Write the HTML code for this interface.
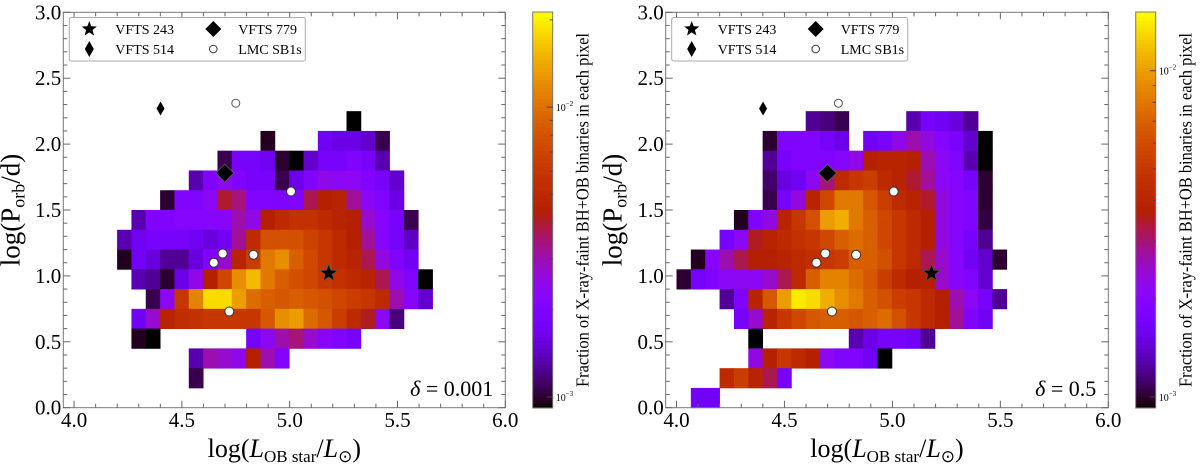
<!DOCTYPE html>
<html><head><meta charset="utf-8"><style>
body{margin:0;background:#fff}
svg{display:block;font-family:"Liberation Serif",serif}
</style></head><body>
<svg id="fig" width="1200" height="466" viewBox="0 0 1200 466" xmlns="http://www.w3.org/2000/svg"></svg>
<script>
// ---- data: rows [rowIndex, firstColumn, colour-scale positions (0-100, log fraction)] ----
const xEdgeStart = 4.0, xBin = 0.0665, yBin = 0.15;
const leftRows = [
 [14,19,[0]],
 [13,13,[2]],[13,17,[20,18,18,15,5]],
 [12,10,[5,22,22,20,3,0,15,22,22,25,22,12]],
 [11,8,[12,25,30,25,22,22,5,18,25,32,30,30,25,22,15]],
 [10,6,[3,25,25,30,47,42,25,25,25,25,45,50,52,40,30,25,18]],
 [9,4,[12,25,25,27,27,27,28,38,32,50,55,58,58,55,52,50,35,27,22,5]],
 [8,3,[12,20,22,22,22,20,17,20,40,55,68,68,68,64,60,55,50,40,27,22,14]],
 [7,3,[2,20,17,10,10,17,25,35,52,62,78,82,72,66,60,55,52,45,33,25,20]],
 [6,4,[12,10,3,18,32,50,65,82,90,78,72,68,65,60,58,55,52,45,32,25,0]],
 [5,5,[5,30,60,80,95,95,85,75,72,70,72,70,68,65,62,60,55,38,28,15]],
 [4,4,[20,35,52,56,58,60,60,60,60,70,82,85,75,70,62,55,48,30,8]],
 [3,4,[2,0]],[3,12,[22,30,38,42,35,28,25,22]],
 [2,8,[12,38,35,32,50,38,25]],
 [1,8,[5]]
];
const rightRows = [
 [14,9,[10,8,5]],[14,16,[12,22,20,17,10]],
 [13,6,[3,25,25,25,22,18]],[13,13,[20,23,32,38,33,27,23,15,0]],
 [12,6,[10,22,25,25,25,27,32,50,52,52,50,38,30,25,12,0]],
 [11,6,[7,17,20,30,42,55,60,62,55,52,47,40,30,27,22,3]],
 [10,6,[5,22,33,52,65,78,78,70,62,55,52,47,33,27,25,3]],
 [9,4,[2,25,33,52,60,68,85,88,78,72,65,60,55,50,33,27,25,4]],
 [8,3,[22,30,48,52,55,58,60,65,72,75,72,65,60,55,50,33,27,22,10]],
 [7,1,[2,27,38,45,50,50,52,55,57,60,62,72,72,68,60,55,45,35,27,20,15,3]],
 [6,0,[3,22,25,30,30,30,35,45,55,72,80,80,75,70,62,55,50,50,35,28,25,15]],
 [5,3,[10,25,52,70,85,97,95,88,82,78,72,68,62,60,55,50,38,30,22,10]],
 [4,4,[22,35,52,60,65,70,72,72,70,72,75,68,60,55,50,40,25,20]],
 [3,5,[0]],[3,12,[12,18,22,22,20,10]],
 [2,5,[33,50,60,55,50,30,25,25,20,0]],
 [1,3,[55,62,52,45,22]],
 [0,1,[20,20]]
];
const xTicks = [4.0,4.5,5.0,5.5,6.0];
const yTicks = [0.0,0.5,1.0,1.5,2.0,2.5,3.0];
const sb1X = [4.750,5.006,4.689,4.648,4.832,4.720];
const sb1Y = [2.31,1.64,1.17,1.10,1.16,0.73];
const starPt = [5.181,1.02];
const bigDiamondPt = [4.699,1.78];
const thinDiamondPt = [4.401,2.27];
const panelLabels = ["\u03b4 = 0.001","\u03b4 = 0.5"];
const cbarRanges = [[-3.038,-1.672],[-3.034,-1.82]];

const NS="http://www.w3.org/2000/svg";
const svg=document.getElementById('fig');
function mk(tag,attrs,parent){const e=document.createElementNS(NS,tag);for(const k in attrs)e.setAttribute(k,attrs[k]);(parent||svg).appendChild(e);return e;}
function cmap(t){t=Math.max(0,Math.min(1,t));const r=Math.sqrt(t),g=t*t*t,b=Math.max(0,Math.sin(2*Math.PI*t));
 return `rgb(${Math.round(r*255)},${Math.round(g*255)},${Math.round(b*255)})`;}

const panels=[{x0:63.3,x1:505.3,rows:leftRows,cb:532.7,name:'left'},{x0:665.7,x1:1108.3,rows:rightRows,cb:1135.7,name:'right'}];
const Y0=407.7,Y1=12.3,XMIN=3.95,XMAX=6.0;
panels.forEach((p,pi)=>{
 const g=mk('g',{});
 
 
 const sx=v=>p.x0+(v-XMIN)/(XMAX-XMIN)*(p.x1-p.x0);
 const sy=v=>Y0-(v/3)*(Y0-Y1);
 p.rows.forEach(([r,c0,vals])=>{
  vals.forEach((v,i)=>{
   const c=c0+i;const xa=sx(xEdgeStart+c*xBin),xb=sx(xEdgeStart+(c+1)*xBin);
   const ya=sy((r+1)*yBin),yb=sy(r*yBin);
   const rc=mk('rect',{x:xa.toFixed(2),y:ya.toFixed(2),width:(xb-xa+0.4).toFixed(2),height:(yb-ya+0.4).toFixed(2),fill:cmap(v/100)},g);
   
   
  });
 });
 const fr=mk('rect',{x:p.x0,y:Y1,width:p.x1-p.x0,height:Y0-Y1,fill:'none',stroke:'#777','stroke-width':1},g);
 
 
 for(let v=4;v<=6.001;v+=0.1){const x=sx(v);const big=Math.abs(v*2-Math.round(v*2))<1e-6;const L=big?7:4;
  mk('line',{x1:x,x2:x,y1:Y0,y2:Y0-L,stroke:'#666'},g);mk('line',{x1:x,x2:x,y1:Y1,y2:Y1+L,stroke:'#666'},g);}
 for(let v=0;v<=3.001;v+=0.1){const y=sy(v);const big=Math.abs(v*2-Math.round(v*2))<1e-6;const L=big?7:4;
  mk('line',{x1:p.x0,x2:p.x0+L,y1:y,y2:y,stroke:'#666'},g);mk('line',{x1:p.x1,x2:p.x1-L,y1:y,y2:y,stroke:'#666'},g);}
 xTicks.forEach(v=>{const t=mk('text',{x:sx(v),y:427,'font-size':21,'text-anchor':'middle'},g);t.textContent=v.toFixed(1);
  });
 yTicks.forEach(v=>{const t=mk('text',{x:p.x0-2,y:sy(v)+7,'font-size':21,'text-anchor':'end'},g);t.textContent=v.toFixed(1);
  });
 const xt=mk('text',{x:(p.x0+p.x1)/2,y:457,'font-size':26,'text-anchor':'middle'},g);
 xt.innerHTML='log(<tspan font-style="italic">L</tspan><tspan font-size="17" dy="5">OB star</tspan><tspan dy="-5">/</tspan><tspan font-style="italic">L</tspan><tspan font-size="17" dy="5">\u2299</tspan><tspan dy="-5">)</tspan>';
 
 const yt=mk('text',{x:0,y:0,'font-size':27,'text-anchor':'middle',transform:`translate(${p.x0-44},210) rotate(-90)`},g);
 yt.innerHTML='log(P<tspan font-size="18" dy="5">orb</tspan><tspan dy="-5">/d)</tspan>';
 
 const dl=mk('text',{x:p.x1-12,y:396,'font-size':22,'text-anchor':'end'},g);
 dl.innerHTML='<tspan font-style="italic">\u03b4</tspan>'+panelLabels[pi].slice(1);
 
 sb1X.forEach((x,i)=>{const big=i>0;const c=mk('circle',{cx:sx(x),cy:sy(sb1Y[i]),r:big?4.5:4,fill:'#fff',stroke:big?'#333':'#555','stroke-width':1},g);
  });
 const starPath=(cx,cy,R)=>{let d='';for(let i=0;i<10;i++){const a=-Math.PI/2+i*Math.PI/5;const rr=i%2?R*0.42:R;d+=(i?'L':'M')+(cx+rr*Math.cos(a)).toFixed(2)+','+(cy+rr*Math.sin(a)).toFixed(2);}return d+'Z';};
 const st=mk('path',{d:starPath(sx(starPt[0]),sy(starPt[1]),9),fill:'#000',stroke:'#555','stroke-width':0.7},g);
 
 const bx=sx(bigDiamondPt[0]),by=sy(bigDiamondPt[1]);
 const bd=mk('path',{d:`M${bx},${by-9}L${bx+9},${by}L${bx},${by+9}L${bx-9},${by}Z`,fill:'#000',stroke:'#666','stroke-width':0.7},g);
 
 const tx=sx(thinDiamondPt[0]),ty=sy(thinDiamondPt[1]);
 const td=mk('path',{d:`M${tx},${ty-7}L${tx+4},${ty}L${tx},${ty+7}L${tx-4},${ty}Z`,fill:'#000'},g);
 
 const lg=mk('g',{transform:`translate(${p.x0+6},0)`},g);
 
 mk('rect',{x:0,y:17.5,width:236,height:43.5,rx:2,fill:'#fff',stroke:'#aaa'},lg);
 mk('path',{d:starPath(20,29,8),fill:'#000'},lg);
 mk('path',{d:'M20,41L24.5,49L20,57L15.5,49Z',fill:'#000'},lg);
 mk('path',{d:'M144,21L152,29L144,37L136,29Z',fill:'#000'},lg);
 mk('circle',{cx:144,cy:49,r:3.8,fill:'#fff',stroke:'#333'},lg);
 [['VFTS 243',46,34],['VFTS 514',46,54],['VFTS 779',169,34],['LMC SB1s',169,54]].forEach(([s,x,y])=>{
  const t=mk('text',{x:x,y:y,'font-size':14},lg);t.textContent=s;
  });
 const [lo,hi]=cbarRanges[pi];
 const cbg=mk('g',{},g);
 
 const cx0=p.cb,cw=20,cyT=12,cyB=408;
 const N=100;for(let i=0;i<N;i++){mk('rect',{x:cx0,y:cyB-(i+1)*(cyB-cyT)/N,width:cw,height:(cyB-cyT)/N+0.5,fill:cmap((i+0.5)/N)},cbg);}
 mk('rect',{x:cx0,y:cyT,width:cw,height:cyB-cyT,fill:'none',stroke:'#777'},cbg);
 const cyv=l=>cyB-(l-lo)/(hi-lo)*(cyB-cyT);
 for(let e=-3;e<=-2;e++)for(let m=1;m<10;m++){const l=e+Math.log10(m);if(l<lo||l>hi)continue;const y=cyv(l);
  mk('line',{x1:cx0+cw,x2:cx0+cw-(m==1?6:3),y1:y,y2:y,stroke:'#444'},cbg);
  if(m==1){const t=mk('text',{x:cx0+cw+3,y:y+4,'font-size':10},cbg);t.innerHTML=`10<tspan font-size="7" dy="-5">\u2212${-e}</tspan>`;}}
 const cl=mk('text',{x:0,y:0,'font-size':18,'text-anchor':'middle',textLength:354,lengthAdjust:'spacingAndGlyphs',transform:`translate(${cx0+56},210) rotate(-90)`},cbg);
 cl.textContent='Fraction of X-ray-faint BH+OB binaries in each pixel';
});
</script>
</body></html>
